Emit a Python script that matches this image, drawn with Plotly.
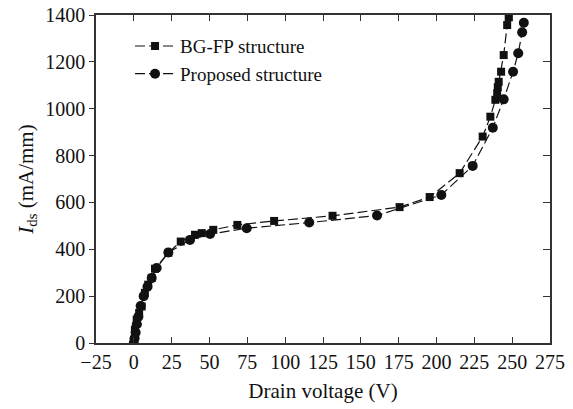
import plotly.graph_objects as go

# BG-FP structure: drain voltage (V) and drain current (mA/mm)
bgfp_v = [0, 0.7, 1.9, 3.5, 5.2, 7.3, 9.5, 11.8, 14.0, 22.8, 31.0, 40.4, 44.9, 52.5,
          68.4, 92.7, 131.3, 175.6, 195.5, 215.3, 230.5, 235.6, 238.9, 240.1, 240.5,
          241.1, 242.7, 244.4, 246.7, 247.7]
bgfp_i = [6, 57, 99, 128, 156, 214, 249, 278, 317, 385, 433, 462, 469, 483,
          504, 521, 543, 580, 623, 725, 881, 966, 1038, 1066, 1092,
          1115, 1158, 1229, 1357, 1390]

# Proposed structure
prop_v = [0, 0.5, 1.2, 2.0, 3.0, 4.5, 6.5, 9.0, 11.8, 15.1, 22.8, 37.1, 50.4, 74.6,
          115.9, 160.7, 203.2, 223.9, 237.2, 244.4, 250.6, 254.0, 256.6, 257.7]
prop_i = [0, 20, 45, 80, 112, 158, 200, 240, 277, 320, 386, 440, 465, 490,
          514, 544, 632, 756, 919, 1040, 1158, 1237, 1326, 1367]

x_ticks = list(range(-25, 276, 25))
y_ticks = list(range(0, 1401, 200))

FONT = "Liberation Serif, Times New Roman, serif"
INK = "#111111"
AXIS = "#333333"

fig = go.Figure()
fig.add_trace(go.Scatter(
    x=bgfp_v, y=bgfp_i, mode="lines+markers", name="BG-FP structure",
    line=dict(color=INK, width=1.2, dash="10px,4px"),
    marker=dict(symbol="square", size=8, color=INK),
))
fig.add_trace(go.Scatter(
    x=prop_v, y=prop_i, mode="lines+markers", name="Proposed structure",
    line=dict(color=INK, width=1.2, dash="10px,4px"),
    marker=dict(symbol="circle", size=10, color=INK),
))
# empty trace on the secondary axes so the mirrored frame is drawn
fig.add_trace(go.Scatter(x=[None], y=[None], xaxis="x2", yaxis="y2",
                         showlegend=False, hoverinfo="skip"))

fig.update_layout(
    width=573, height=409,
    margin=dict(l=96, r=23, t=15, b=66, autoexpand=False),
    paper_bgcolor="white", plot_bgcolor="white",
    font=dict(family=FONT, size=20, color=INK),
    showlegend=True,
    legend=dict(x=0.075, y=0.963, xanchor="left", yanchor="top",
                bgcolor="rgba(0,0,0,0)", borderwidth=0,
                font=dict(family=FONT, size=19, color=INK),
                itemwidth=40, tracegroupgap=0),
    xaxis=dict(range=[-25, 275], tickvals=x_ticks, ticks="inside", ticklen=6,
               tickwidth=1.3, tickcolor=AXIS, showline=True, linecolor=AXIS,
               linewidth=1.5, showgrid=False, zeroline=False, automargin=False,
               title=dict(text="Drain voltage (V)", font=dict(size=21), standoff=12),
               tickfont=dict(size=20)),
    yaxis=dict(range=[0, 1400], tickvals=y_ticks, ticks="outside", ticklen=5,
               tickwidth=1.3, tickcolor=AXIS, showline=True, linecolor=AXIS,
               linewidth=1.5, showgrid=False, zeroline=False, automargin=False,
               title=dict(text="<i>I</i><sub>ds</sub> (mA/mm)", font=dict(size=21), standoff=6),
               tickfont=dict(size=20)),
    xaxis2=dict(range=[-25, 275], tickvals=x_ticks, overlaying="x", side="top",
                ticks="inside", ticklen=6, tickwidth=1.3, tickcolor=AXIS,
                showline=True, linecolor=AXIS, linewidth=1.5, automargin=False,
                showticklabels=False, showgrid=False, zeroline=False),
    yaxis2=dict(range=[0, 1400], tickvals=y_ticks, overlaying="y", side="right",
                ticks="inside", ticklen=7, tickwidth=1.3, tickcolor=AXIS,
                showline=True, linecolor=AXIS, linewidth=1.5, automargin=False,
                showticklabels=False, showgrid=False, zeroline=False),
)

fig.write_html("out.html")
